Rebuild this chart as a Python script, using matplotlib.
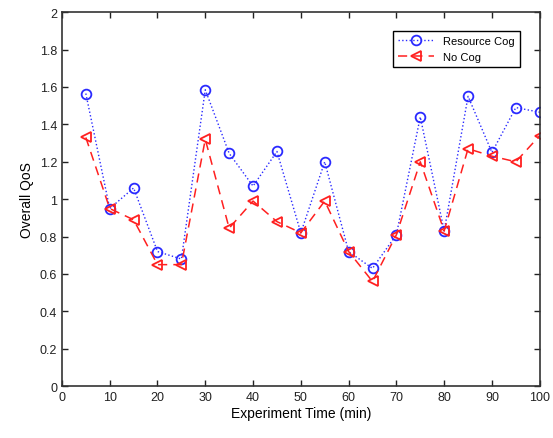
import matplotlib
matplotlib.use("Agg")
import matplotlib.pyplot as plt
from matplotlib.ticker import FuncFormatter

plt.rcParams['font.family'] = ['Liberation Sans', 'DejaVu Sans']

time_min = [5, 10, 15, 20, 25, 30, 35, 40, 45, 50, 55, 60, 65, 70, 75, 80, 85, 90, 95, 100]
resource_cog = [1.565, 0.95, 1.06, 0.72, 0.68, 1.585, 1.245, 1.07, 1.255, 0.82, 1.20, 0.72, 0.63,
                0.81, 1.44, 0.83, 1.55, 1.25, 1.49, 1.465]
no_cog = [1.33, 0.95, 0.89, 0.65, 0.65, 1.32, 0.845, 0.99, 0.88, 0.82, 0.99, 0.72, 0.56,
          0.81, 1.20, 0.83, 1.27, 1.23, 1.20, 1.34]
x_ticks = [0, 10, 20, 30, 40, 50, 60, 70, 80, 90, 100]
y_ticks = [0, 0.2, 0.4, 0.6, 0.8, 1.0, 1.2, 1.4, 1.6, 1.8, 2.0]

fig = plt.figure(figsize=(5.53, 4.39), dpi=100)
ax = fig.add_axes([0.112, 0.118, 0.864, 0.852])

ax.plot(time_min, resource_cog, linestyle=':', color='#2a2aff', marker='o', markersize=7,
        markerfacecolor='none', markeredgewidth=1.3, linewidth=1.0, label='Resource Cog')
ax.plot(time_min, no_cog, linestyle=(0, (6, 4)), color='#ff2020', marker='<', markersize=7.5,
        markerfacecolor='none', markeredgewidth=1.3, linewidth=1.1, label='No Cog')

ax.set_xlim(0, 100)
ax.set_ylim(0, 2)
ax.set_xticks(x_ticks)
ax.set_yticks(y_ticks)
ax.yaxis.set_major_formatter(FuncFormatter(lambda v, p: f"{v:g}"))
ax.tick_params(direction='in', top=True, right=True, labelsize=9, length=4, width=1,
               colors='#222222')
for s in ax.spines.values():
    s.set_linewidth(1.2)
    s.set_color('#333333')

ax.set_xlabel('Experiment Time (min)', fontsize=10, labelpad=2)
ax.set_ylabel('Overall QoS', fontsize=10, labelpad=4)

leg = ax.legend(loc='upper right', bbox_to_anchor=(0.97, 0.965), fontsize=8, fancybox=False,
                edgecolor='black', framealpha=1, handlelength=3.2, borderpad=0.5,
                labelspacing=0.5)
leg.get_frame().set_linewidth(1.0)

fig.savefig('out.png', dpi=100)
